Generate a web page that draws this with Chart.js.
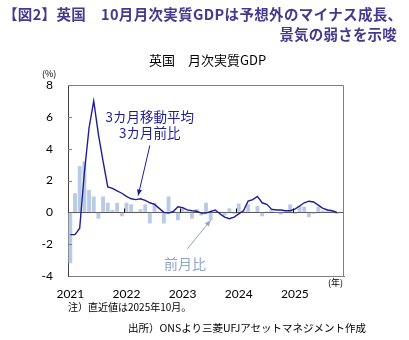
<!DOCTYPE html>
<html>
<head>
<meta charset="utf-8">
<script src="https://cdn.jsdelivr.net/npm/chart.js@4.4.0/dist/chart.umd.min.js"></script>
<style>
  body { margin: 0; background: #fff; }
  #wrap { position: relative; width: 409px; height: 340px; overflow: hidden; }
  canvas { position: absolute; left: 0; top: 0; }
  .t { position: absolute; font-family: "Noto Sans CJK JP", sans-serif; white-space: nowrap; line-height: 1; }
</style>
</head>
<body>
<div id="wrap">
  <canvas id="gdpChart" width="409" height="340"></canvas>
  <div class="t" style="left:3px;top:7px;font-size:14.5px;font-weight:bold;color:#43398f;letter-spacing:0.35px;">【図2】英国　10月月次実質GDPは予想外のマイナス成長、</div>
  <div class="t" style="right:12px;top:27px;font-size:14.5px;font-weight:bold;color:#43398f;letter-spacing:0.2px;">景気の弱さを示唆</div>
  <div class="t" style="left:149px;top:53px;font-size:13px;color:#000;">英国　月次実質GDP</div>
  <div class="t" style="left:42px;top:69px;font-size:9px;color:#000;">(%)</div>
  <div class="t" style="left:328px;top:278px;font-size:9px;color:#000;">(年)</div>
  <div class="t" style="left:68px;top:302px;font-size:10px;color:#000;">注）直近値は2025年10月。</div>
  <div class="t" style="left:128px;top:323px;font-size:10.5px;color:#000;">出所）ONSより三菱UFJアセットマネジメント作成</div>
</div>
<script>
// categories: Jan 2021 - Nov 2025 (monthly)
const years = ['2021', '2022', '2023', '2024', '2025'];
const months = [];
years.forEach(function (yr) {
  for (let m = 1; m <= 12; m++) {
    if (yr === '2025' && m > 11) break;
    months.push(yr + '-' + (m < 10 ? '0' + m : m));
  }
});

// 前月比 (%), Jan 2021 - Oct 2025
const momChange = [
  -3.2, 1.2, 2.9, 3.2, 1.4, 1.0, -0.4, 1.0, 0.6, 0.15, 0.6, -0.25,
  0.6, 0.5, 0.05, 0.2, 0.5, -0.7, 0.6, 0.05, -0.7, 1.0, 0.05, -0.5,
  0.3, 0.1, -0.4, 0.2, -0.2, 0.6, -0.5, 0.1, 0.05, -0.2, 0.25, -0.1,
  0.55, 0.1, 0.5, 0.05, 0.4, -0.25, 0.05, 0.2, -0.05, -0.15, 0.05, 0.5,
  -0.1, 0.4, 0.35, -0.3, -0.1, 0.35, 0.1, 0.15, 0.1, -0.1
];

// 3カ月移動平均 3カ月前比 (%)
const threeMonth = [
  -1.4, -1.4, -1.0, 2.5, 5.3, 7.0, 4.9, 3.2, 1.6, 1.5, 1.35, 1.2,
  1.0, 0.85, 0.8, 0.85, 0.75, 0.6, 0.5, 0.25, 0.0, -0.05, 0.05, 0.35,
  0.3, 0.15, 0.1, 0.07, -0.05, -0.05, 0.05, 0.15, -0.1, -0.3, -0.4, -0.3,
  -0.1, 0.1, 0.7, 0.8, 1.0, 0.6, 0.5, 0.2, 0.15, 0.15, 0.1, 0.1,
  0.2, 0.4, 0.6, 0.7, 0.65, 0.45, 0.25, 0.15, 0.1, 0.0
];

const yTickValues = [8, 6, 4, 2, 0, -2, -4];

const lineColor = '#1d1d9b';
const barColor = '#b8cbe2';
const momLabelColor = '#8ea6c8';

function drawArrow(ctx, x1, y1, x2, y2, color) {
  ctx.strokeStyle = color;
  ctx.fillStyle = color;
  ctx.lineWidth = 1;
  ctx.beginPath();
  ctx.moveTo(x1, y1);
  ctx.lineTo(x2, y2);
  ctx.stroke();
  const ang = Math.atan2(y2 - y1, x2 - x1), L = 6, W = 2.6;
  ctx.beginPath();
  ctx.moveTo(x2, y2);
  ctx.lineTo(x2 - L * Math.cos(ang) + W * Math.sin(ang), y2 - L * Math.sin(ang) - W * Math.cos(ang));
  ctx.lineTo(x2 - L * Math.cos(ang) - W * Math.sin(ang), y2 - L * Math.sin(ang) + W * Math.cos(ang));
  ctx.closePath();
  ctx.fill();
}

const decorPlugin = {
  id: 'decor',
  afterDatasetsDraw(chart) {
    const ctx = chart.ctx;
    const a = chart.chartArea;
    const x = chart.scales.x, y = chart.scales.y;
    ctx.save();

    // frame top / right
    ctx.strokeStyle = '#7f7f7f';
    ctx.lineWidth = 1;
    ctx.beginPath();
    ctx.moveTo(a.left, a.top + 0.5);
    ctx.lineTo(a.right - 0.5, a.top + 0.5);
    ctx.lineTo(a.right - 0.5, a.bottom);
    ctx.stroke();

    // inner ticks on the value axis
    ctx.strokeStyle = '#808080';
    yTickValues.forEach(function (v) {
      if (v === 0 || v === 8 || v === -4) return;
      const py = Math.round(y.getPixelForValue(v)) + 0.5;
      ctx.beginPath();
      ctx.moveTo(a.left, py);
      ctx.lineTo(a.left + 4, py);
      ctx.stroke();
    });

    // year boundary ticks on the zero line
    const y0 = Math.round(y.getPixelForValue(0)) + 0.5;
    ctx.strokeStyle = '#000';
    months.forEach(function (m, i) {
      if (i === 0 || !m.endsWith('-01')) return;
      const px = Math.round((x.getPixelForValue(i - 1) + x.getPixelForValue(i)) / 2) + 0.5;
      ctx.beginPath();
      ctx.moveTo(px, y0);
      ctx.lineTo(px, y0 - 4);
      ctx.stroke();
    });

    // annotation: 3カ月移動平均 3カ月前比
    ctx.font = '13.5px "Noto Sans CJK JP"';
    ctx.textAlign = 'center';
    ctx.textBaseline = 'middle';
    ctx.fillStyle = lineColor;
    const lx = x.getPixelForValue(17);
    ctx.fillText('3カ月移動平均', lx, y.getPixelForValue(6.0));
    ctx.fillText('3カ月前比', lx, y.getPixelForValue(5.0));
    const tipX = (x.getPixelForValue(14) + x.getPixelForValue(15)) / 2;
    drawArrow(ctx, lx, y.getPixelForValue(4.2), tipX, y.getPixelForValue(1.05), lineColor);

    // annotation: 前月比
    ctx.fillStyle = momLabelColor;
    ctx.font = '14px "Noto Sans CJK JP"';
    ctx.fillText('前月比', (x.getPixelForValue(24) + x.getPixelForValue(25)) / 2, y.getPixelForValue(-3.2));
    drawArrow(ctx, x.getPixelForValue(25), y.getPixelForValue(-2.3),
      x.getPixelForValue(30), y.getPixelForValue(-0.5), momLabelColor);

    ctx.restore();
  }
};

new Chart(document.getElementById('gdpChart').getContext('2d'), {
  type: 'bar',
  data: {
    labels: months,
    datasets: [{
      type: 'line',
      label: '3カ月移動平均 3カ月前比',
      data: threeMonth,
      borderColor: lineColor,
      borderWidth: 1.4,
      pointRadius: 0,
      tension: 0,
      fill: false,
      order: 0
    }, {
      type: 'bar',
      label: '前月比',
      data: momChange,
      backgroundColor: barColor,
      borderWidth: 0,
      categoryPercentage: 1.0,
      barPercentage: 0.82,
      order: 1
    }]
  },
  options: {
    responsive: false,
    animation: false,
    layout: { padding: { left: 38, right: 65, top: 85, bottom: 34 } },
    plugins: {
      legend: { display: false },
      tooltip: { enabled: false },
      title: { display: false }
    },
    scales: {
      x: {
        offset: true,
        afterFit: function (scale) { scale.height = 30; },
        grid: { display: false, drawTicks: false },
        border: { display: true, color: '#7f7f7f', width: 1 },
        ticks: {
          autoSkip: false,
          maxRotation: 0,
          padding: 11,
          color: '#000',
          font: { family: 'Lato', size: 12 },
          callback: function (val, idx) {
            return months[idx].endsWith('-01') ? months[idx].slice(0, 4) : '';
          }
        }
      },
      y: {
        min: -4,
        max: 8,
        afterFit: function (scale) { scale.width = 30; },
        afterBuildTicks: function (scale) {
          scale.ticks = yTickValues.map(function (v) { return { value: v }; });
        },
        grid: {
          drawTicks: false,
          color: function (c) { return c.tick && c.tick.value === 0 ? '#5a5a5a' : 'rgba(0,0,0,0)'; },
          lineWidth: 1
        },
        border: { display: true, color: '#404040', width: 1 },
        ticks: {
          padding: 15,
          color: '#000',
          font: { family: 'Lato', size: 12 },
          callback: function (v) { return String(v); }
        }
      }
    }
  },
  plugins: [decorPlugin]
});
</script>
</body>
</html>
